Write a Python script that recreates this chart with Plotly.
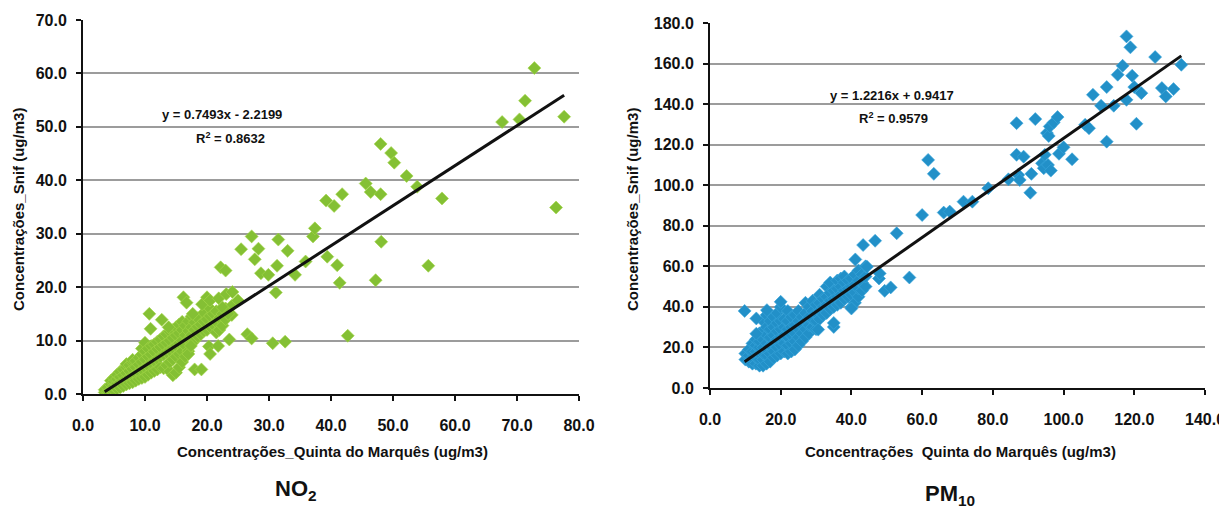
import plotly.graph_objects as go

# page body adds an 8px margin, so the figure is drawn 8px smaller and shifted
OFF = 8
W, H = 1227 - OFF, 513 - OFF

# ---------------- NO2 data (Quinta do Marquês vs Snif) ----------------
no2_x = [
    # dense cluster
    3.5, 3.5, 4.0, 4.0, 4.5, 4.5, 4.5, 5.0, 5.0, 5.0, 5.0,
    5.5, 5.5, 5.5, 5.5, 6.0, 6.0, 6.0, 6.0, 6.5, 6.5, 6.5, 6.5,
    7.0, 7.0, 7.0, 7.0, 7.0, 7.5, 7.5, 7.5, 7.5,
    8.0, 8.0, 8.0, 8.0, 8.0, 8.5, 8.5, 8.5, 8.5, 9.0, 9.0, 9.0, 9.0,
    9.5, 9.5, 9.5, 9.5, 9.5, 10.0, 10.0, 10.0, 10.0, 10.0,
    10.5, 10.5, 10.5, 10.5, 11.0, 11.0, 11.0, 11.0, 11.5, 11.5, 11.5, 11.5,
    12.0, 12.0, 12.0, 12.0, 12.5, 12.5, 12.5, 12.5, 13.0, 13.0, 13.0, 13.0,
    13.5, 13.5, 13.5, 13.5, 14.0, 14.0, 14.0, 14.0, 14.0,
    14.5, 14.5, 14.5, 14.5, 14.5, 15.0, 15.0, 15.0, 15.0, 15.0,
    15.5, 15.5, 15.5, 15.5, 15.5, 16.0, 16.0, 16.0, 16.0, 16.0,
    16.5, 16.5, 16.5, 16.5, 17.0, 17.0, 17.0, 17.0, 17.5, 17.5, 17.5, 17.5,
    18.0, 18.0, 18.0, 18.5, 18.5, 18.5, 19.0, 19.0, 19.5, 19.5, 19.5,
    20.0, 20.0, 20.5, 20.5, 20.5, 21.0, 21.0, 21.5, 21.5, 21.5,
    22.0, 22.0, 22.5, 22.5, 23.0, 23.0, 24.0, 24.0, 25.0,
    # scattered points
    10.7, 10.9, 12.7, 13.8, 16.2, 16.7, 17.7, 19.2, 20.0, 20.5, 21.9, 23.1,
    24.1, 22.5, 23.4, 17.0, 17.4, 18.0, 19.1, 20.3, 20.5, 21.8, 23.6,
    22.2, 23.0, 25.5, 26.5, 27.2, 27.2, 27.7, 28.3, 28.7, 29.9, 30.6, 31.1,
    31.3, 31.5, 32.6, 33.0, 34.2, 35.9, 37.1, 37.4, 39.2, 39.4, 40.5, 41.0,
    41.4, 41.8, 42.7, 45.6, 46.4, 47.2, 48.0, 48.0, 48.1, 49.7, 50.2, 52.2,
    53.9, 55.7, 57.9, 67.6, 70.4, 71.3, 72.8, 76.3, 77.6,
]
no2_y = [
    0.3, 0.8, 0.5, 1.2, 0.8, 1.8, 2.5, 0.7, 1.5, 2.3, 3.0,
    1.0, 1.9, 2.8, 3.6, 1.2, 2.2, 3.2, 4.2, 1.5, 2.5, 3.5, 4.6,
    1.8, 2.9, 3.9, 5.0, 5.6, 2.0, 3.2, 4.3, 5.4,
    2.2, 3.5, 4.7, 5.9, 6.4, 2.5, 3.8, 5.0, 6.2, 2.8, 4.2, 5.5, 6.8,
    3.0, 4.6, 6.0, 7.4, 8.5, 3.2, 5.0, 6.5, 8.0, 9.6,
    3.6, 5.3, 7.0, 8.5, 4.0, 5.8, 7.4, 9.0, 4.3, 6.2, 7.9, 9.3,
    4.6, 6.6, 8.4, 9.8, 5.0, 7.0, 8.8, 10.2, 4.8, 7.4, 9.2, 10.8,
    5.4, 7.8, 9.6, 11.2, 4.2, 6.0, 8.2, 10.0, 11.7,
    3.5, 6.5, 8.6, 10.5, 12.0, 4.0, 7.0, 9.0, 11.0, 12.5,
    5.0, 7.5, 9.5, 11.4, 13.0, 6.0, 8.0, 10.0, 12.0, 13.5,
    7.0, 9.0, 11.0, 12.8, 8.0, 10.2, 11.8, 13.6, 9.5, 11.0, 12.5, 14.5,
    10.0, 12.0, 13.4, 10.8, 12.6, 14.2, 11.2, 13.0, 11.8, 13.6, 15.2,
    12.0, 14.0, 12.6, 14.6, 16.0, 13.0, 15.0, 11.5, 13.5, 15.5,
    12.0, 14.2, 12.8, 15.0, 14.0, 16.0, 14.8, 16.5, 17.5,
    15.0, 12.2, 13.9, 12.5, 18.1, 17.1, 15.0, 16.8, 18.1, 17.5, 17.9, 18.7,
    19.1, 16.2, 15.0, 7.5, 9.0, 4.6, 4.6, 8.9, 7.5, 9.0, 10.2,
    23.7, 23.1, 27.1, 11.2, 29.5, 10.4, 25.2, 27.2, 22.6, 22.3, 9.5, 19.0,
    24.0, 28.9, 9.8, 26.8, 22.3, 24.8, 29.5, 31.0, 36.2, 25.7, 35.2, 24.1,
    20.8, 37.4, 10.9, 39.4, 37.8, 21.3, 46.8, 37.4, 28.5, 45.1, 43.3, 40.8,
    38.8, 24.0, 36.6, 50.9, 51.4, 54.9, 61.0, 34.9, 51.9,
]
no2_slope, no2_intercept = 0.7493, -2.2199
no2_r2 = 0.8632

# ---------------- PM10 data ----------------
pm_x = [
    # dense cluster
    10, 10, 11, 11, 11, 12, 12, 12, 12, 13, 13, 13, 13, 13,
    14, 14, 14, 14, 14, 14, 15, 15, 15, 15, 15, 15, 15,
    16, 16, 16, 16, 16, 16, 16, 17, 17, 17, 17, 17, 17,
    18, 18, 18, 18, 18, 18, 19, 19, 19, 19, 19, 19,
    20, 20, 20, 20, 20, 20, 21, 21, 21, 21, 21,
    22, 22, 22, 22, 22, 22, 23, 23, 23, 23, 23,
    24, 24, 24, 24, 24, 25, 25, 25, 25, 25, 26, 26, 26, 26,
    27, 27, 27, 27, 27, 28, 28, 28, 28, 29, 29, 29, 29,
    30, 30, 30, 30, 31, 31, 31, 31, 32, 32, 32, 33, 33, 33, 33,
    34, 34, 34, 34, 35, 35, 35, 36, 36, 36, 36, 37, 37, 37, 37,
    38, 38, 38, 38, 39, 39, 39, 40, 40, 40, 40, 41, 41, 41, 41,
    42, 42, 42, 42, 43, 43, 43, 44, 44, 44,
    # scattered points
    9.8, 13.1, 13.1, 16.1, 20.0, 30.6, 35.0, 35.0, 40.0, 41.1, 43.3, 44.4,
    46.7, 47.8, 48.0, 49.4, 51.1, 52.8, 56.4, 60.0, 61.7, 63.3, 66.1, 67.8,
    71.7, 74.2, 78.7, 84.4, 86.7, 86.7, 87.2, 87.6, 88.7, 90.6, 90.9, 92.0,
    93.9, 94.4, 94.7, 95.3, 95.6, 95.8, 96.1, 96.4, 97.2, 98.3, 98.7, 100.0,
    102.4, 106.1, 107.2, 108.3, 110.6, 112.2, 112.2, 114.2, 115.3, 116.7, 117.8,
    117.8, 118.9, 119.4, 120.0, 120.6, 122.0, 125.9, 127.8, 128.9, 131.1, 133.3,
]
pm_y = [
    14, 17, 13, 16, 19, 12, 15, 18, 22, 12, 15, 18, 21, 24,
    11, 14, 17, 20, 23, 27, 11, 14, 17, 20, 24, 28, 33,
    12, 16, 19, 22, 26, 30, 36, 13, 17, 21, 25, 29, 33,
    15, 18, 22, 26, 30, 35, 16, 20, 24, 28, 32, 37,
    17, 21, 25, 29, 33, 40, 18, 22, 26, 30, 34,
    17, 21, 25, 29, 33, 38, 18, 22, 26, 30, 35,
    19, 23, 27, 31, 36, 21, 25, 29, 33, 38, 23, 27, 31, 35,
    25, 29, 33, 37, 42, 27, 31, 35, 40, 30, 34, 38, 43,
    29, 33, 37, 41, 34, 38, 42, 46, 36, 40, 44, 37, 41, 45, 50,
    39, 43, 47, 52, 40, 44, 48, 41, 45, 49, 53, 42, 46, 50, 54,
    44, 48, 52, 55, 45, 49, 53, 40, 46, 50, 54, 42, 47, 51, 56,
    45, 49, 53, 58, 48, 52, 56, 50, 55, 60,
    38.0, 26.8, 34.3, 38.4, 42.5, 28.8, 30.1, 32.1, 39.2, 63.4, 70.5, 59.8,
    72.6, 54.0, 56.5, 47.9, 49.6, 76.3, 54.5, 85.3, 112.5, 105.6, 86.5, 87.0,
    91.9, 91.9, 98.5, 102.9, 130.6, 115.0, 105.1, 102.6, 114.1, 96.3, 105.6, 132.6,
    110.8, 108.4, 115.0, 125.7, 110.0, 124.3, 129.0, 107.2, 130.9, 133.6, 115.5, 118.7,
    112.8, 129.8, 128.1, 144.6, 139.2, 148.4, 121.5, 139.2, 154.5, 158.9, 173.4,
    142.1, 168.0, 154.0, 148.4, 130.3, 145.4, 163.2, 147.9, 143.8, 147.4, 159.4,
]
pm_slope, pm_intercept = 1.2216, 0.9417
pm_r2 = 0.9579

# tick values
no2_xticks = [0, 10, 20, 30, 40, 50, 60, 70, 80]
no2_yticks = [0, 10, 20, 30, 40, 50, 60, 70]
pm_xticks = [0, 20, 40, 60, 80, 100, 120, 140]
pm_yticks = [0, 20, 40, 60, 80, 100, 120, 140, 160, 180]

GREEN = "#84c034"
BLUE = "#2290c8"
FONT = "Liberation Sans"


def px_x(p):
    return (p - OFF) / W


def px_y(p):
    return 1 - (p - OFF) / H


def bold_labels(vals):
    return [f"<b>{v:.1f}</b>" for v in vals]


fig = go.Figure()

fig.add_trace(go.Scatter(
    x=no2_x, y=no2_y, mode="markers", xaxis="x", yaxis="y",
    marker=dict(symbol="diamond", size=10, color=GREEN,
                line=dict(width=0.6, color="#a4d64a")),
    showlegend=False, hoverinfo="x+y"))
xl = [min(no2_x), max(no2_x)]
fig.add_trace(go.Scatter(
    x=xl, y=[no2_slope * v + no2_intercept for v in xl], mode="lines",
    xaxis="x", yaxis="y", line=dict(color="#111111", width=3),
    showlegend=False, hoverinfo="skip"))

fig.add_trace(go.Scatter(
    x=pm_x, y=pm_y, mode="markers", xaxis="x2", yaxis="y2",
    marker=dict(symbol="diamond", size=10, color=BLUE,
                line=dict(width=0.6, color="#3aa6db")),
    showlegend=False, hoverinfo="x+y"))
xr = [min(pm_x), max(pm_x)]
fig.add_trace(go.Scatter(
    x=xr, y=[pm_slope * v + pm_intercept for v in xr], mode="lines",
    xaxis="x2", yaxis="y2", line=dict(color="#111111", width=3),
    showlegend=False, hoverinfo="skip"))

tickfont = dict(family=FONT, size=16, color="#111111")
common_x = dict(showgrid=False, zeroline=False, showline=True, linecolor="#111111",
                linewidth=2, ticks="outside", ticklen=5, tickwidth=1.5,
                tickcolor="#111111", tickfont=tickfont, tickmode="array",
                automargin=False, ticklabelstandoff=11, ticklabeloverflow="allow")
common_y = dict(showgrid=True, gridcolor="#9c9c9c", gridwidth=2, zeroline=False,
                showline=True, linecolor="#111111", linewidth=2, ticks="outside",
                ticklen=5, tickwidth=1.5, tickcolor="#111111", tickfont=tickfont,
                tickmode="array", automargin=False, ticklabelstandoff=6,
                ticklabeloverflow="allow")

fig.update_layout(
    template="none",
    width=W, height=H,
    margin=dict(l=0, r=0, t=0, b=0, pad=0, autoexpand=False),
    paper_bgcolor="white", plot_bgcolor="white",
    xaxis=dict(domain=[px_x(83), px_x(579)], range=[0, 80], tickvals=no2_xticks,
               ticktext=bold_labels(no2_xticks), anchor="y", **common_x),
    yaxis=dict(domain=[px_y(394), px_y(20)], range=[0, 70], tickvals=no2_yticks,
               ticktext=bold_labels(no2_yticks), anchor="x", **common_y),
    xaxis2=dict(domain=[px_x(710), px_x(1205)], range=[0, 140], tickvals=pm_xticks,
                ticktext=bold_labels(pm_xticks), anchor="y2", **common_x),
    yaxis2=dict(domain=[px_y(388), px_y(23)], range=[0, 180], tickvals=pm_yticks,
                ticktext=bold_labels(pm_yticks), anchor="x2", **common_y),
)


def note(text, x, y, size, angle=0, family=FONT):
    return dict(text=text, x=px_x(x), y=px_y(y), xref="paper", yref="paper",
                xanchor="center", yanchor="middle", textangle=angle,
                showarrow=False, font=dict(family=family, size=size, color="#111111"))


ann = [
    note("<b>Concentrações_Snif (ug/m3)</b>", 18, 210, 15, -90),
    note("<b>Concentrações_Snif (ug/m3)</b>", 632, 210, 15, -90),
    note("<b>Concentrações_Quinta do Marquês (ug/m3)</b>", 332, 451, 15),
    note("<b>Concentrações  Quinta do Marquês (ug/m3)</b>", 960, 451, 15),
    note(f"<b>y = {no2_slope:.4f}x - {abs(no2_intercept):.4f}</b>", 222, 115, 13),
    note(f"<b>R<sup>2</sup> = {no2_r2:.4f}</b>", 230, 138, 13),
    note(f"<b>y = {pm_slope:.4f}x + {pm_intercept:.4f}</b>", 892, 96, 13),
    note(f"<b>R<sup>2</sup> = {pm_r2:.4f}</b>", 893, 118, 13),
    note("<b>NO<sub>2</sub></b>", 296, 490, 22),
    note("<b>PM<sub>10</sub></b>", 950, 495, 22),
]

fig.update_layout(annotations=ann)
fig.write_html("out.html")
